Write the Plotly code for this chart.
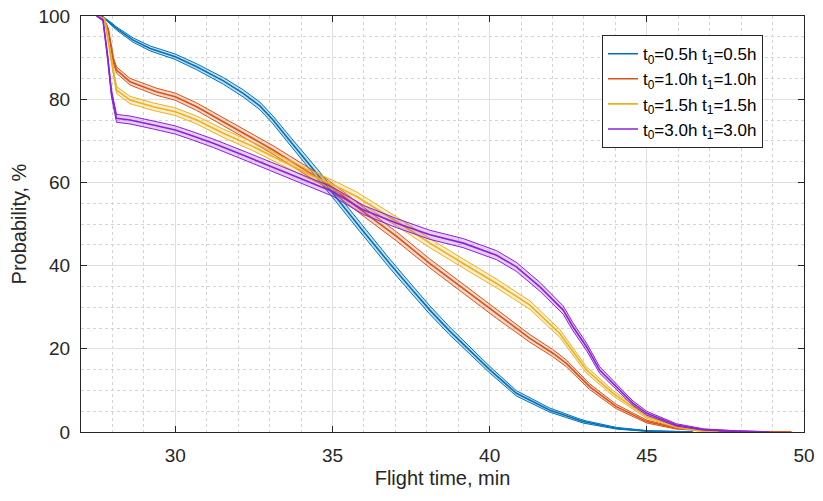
import numpy as np
import plotly.graph_objects as go

labels = ["t<sub>0</sub>=0.5h t<sub>1</sub>=0.5h",
          "t<sub>0</sub>=1.0h t<sub>1</sub>=1.0h",
          "t<sub>0</sub>=1.5h t<sub>1</sub>=1.5h",
          "t<sub>0</sub>=3.0h t<sub>1</sub>=3.0h"]
colors = ["#0072BD", "#D95319", "#EDB120", "#8B22D8"]

blue_x = [27.5, 27.66, 27.9, 28.13, 28.66, 29.2, 30.0, 30.68, 31.53, 32.16, 32.69, 33.11, 33.54, 34.07,
          34.6, 35.0, 35.87, 36.82, 37.5, 38.1, 38.7, 39.3, 40.0, 40.85, 41.9, 42.97, 44.03, 45.0, 45.8, 46.46]
blue_y = [100, 100, 98.5, 97, 94.2, 92.2, 90.2, 87.8, 84.4, 81.4, 78.4, 75, 71, 66.2,
          61.4, 57.5, 49.3, 40.5, 34.5, 29.3, 24.5, 20.2, 15, 9.3, 5.3, 2.5, 0.9, 0.25, 0.05, 0]

orange_x = [27.5, 27.72, 27.87, 28.03, 28.13, 28.56, 29.4, 30.0, 30.68, 31.42, 32.27, 33.11, 33.96, 34.81,
            35.98, 37.04, 38.1, 39.16, 40.22, 41.28, 42.0, 42.44, 43.18, 44.03, 45.0, 45.94, 47.0, 48.0, 49.6]
orange_y = [100, 99.5, 96.6, 89.4, 87, 84.2, 81.8, 80.6, 78.2, 75, 71.4, 67.8, 63.8, 59.8,
            53, 47, 40.5, 34.5, 28.3, 22.5, 19, 16.5, 10.9, 6.1, 2.5, 0.9, 0.3, 0.1, 0]

yellow_x = [27.5, 27.75, 27.97, 28.13, 28.56, 29.3, 30.0, 30.68, 31.53, 32.48, 33.33, 34.18, 35.13, 35.77,
            37.04, 38.1, 39.16, 40.22, 41.28, 42.23, 43.08, 43.93, 45.0, 45.94, 46.6, 47.3]
yellow_y = [100, 99.3, 89.4, 82.2, 79.8, 78.2, 77, 75, 71.8, 68.6, 65.4, 62.2, 59.0, 56.6,
            50.6, 45.4, 40.5, 35.7, 30.5, 23.7, 14.9, 9.3, 3.7, 1.3, 0.4, 0]

purple_x = [27.5, 27.7, 27.85, 27.97, 28.13, 28.56, 29.3, 30.0, 30.47, 31.21, 32.27, 33.33, 34.39, 35.0,
            35.98, 37.04, 38.1, 39.16, 40.22, 40.85, 41.6, 42.34, 42.65, 43.08, 43.5, 43.93, 44.56, 45.0,
            45.94, 46.8, 47.8, 48.9]
purple_y = [100, 99, 90, 81.4, 75.4, 75, 73.8, 72.6, 71.4, 69.4, 66.2, 63, 59.8, 57.8,
            53.4, 50.2, 47.4, 45.4, 42.5, 39.7, 34.9, 29.3, 25.3, 20.5, 14.9, 11.7, 6.9, 4.5,
            1.7, 0.6, 0.2, 0]

series = [(blue_x, blue_y), (orange_x, orange_y), (yellow_x, yellow_y), (purple_x, purple_y)]

FONT = "Liberation Sans, Arial, sans-serif"

def rgba(h, a):
    h = h.lstrip("#")
    return "rgba(%d,%d,%d,%.2f)" % (int(h[0:2], 16), int(h[2:4], 16), int(h[4:6], 16), a)

fig = go.Figure()
for (xs, ys), c, lab in zip(series, colors, labels):
    x = np.array(xs, float)
    y = np.array(ys, float)
    p = y / 100.0
    hw = 2.2 * np.sqrt(np.clip(p * (1 - p), 0, None))
    lo = np.clip(y - hw, 0, 100)
    hi = np.clip(y + hw, 0, 100)
    fig.add_trace(go.Scatter(x=x, y=lo, mode="lines", line=dict(color=c, width=1),
                             showlegend=False, hoverinfo="skip"))
    fig.add_trace(go.Scatter(x=x, y=hi, mode="lines", line=dict(color=c, width=1),
                             fill="tonexty", fillcolor=rgba(c, 0.22),
                             showlegend=False, hoverinfo="skip"))
    fig.add_trace(go.Scatter(x=x, y=y, mode="lines", line=dict(color=c, width=1.6), name=lab))

axis_common = dict(
    showline=True, linecolor="#262626", linewidth=1, mirror="ticks",
    ticks="inside", ticklen=6, tickcolor="#262626", tickwidth=1,
    showgrid=True, gridcolor="#dfdfdf", gridwidth=1,
    zeroline=False, automargin=False, ticklabeloverflow="allow",
    tickfont=dict(family=FONT, size=19, color="#262626"),
)

fig.update_xaxes(range=[27, 50], tickvals=[30, 35, 40, 45, 50],
                 minor=dict(dtick=1, showgrid=True, gridcolor="#d4d4d4", griddash="dot", gridwidth=1, ticks=""),
                 ticklabelstandoff=6,
                 title=dict(text="Flight time, min", standoff=6,
                            font=dict(family=FONT, size=20, color="#262626")),
                 **axis_common)
fig.update_yaxes(range=[0, 100], tickvals=[0, 20, 40, 60, 80, 100],
                 minor=dict(dtick=5, showgrid=True, gridcolor="#d4d4d4", griddash="dot", gridwidth=1, ticks=""),
                 ticklabelstandoff=6,
                 title=dict(text="Probability, %", standoff=6,
                            font=dict(family=FONT, size=20, color="#262626")),
                 **axis_common)

fig.update_layout(
    width=823, height=501,
    margin=dict(l=81, r=19, t=16, b=69),
    plot_bgcolor="white", paper_bgcolor="white",
    legend=dict(x=0.7206, y=0.954, xanchor="left", yanchor="top",
                bgcolor="white", bordercolor="#262626", borderwidth=1,
                font=dict(family=FONT, size=17, color="#000000"),
                traceorder="normal", tracegroupgap=0, itemwidth=30),
    showlegend=True,
)

fig.write_html("out.html", config={"displayModeBar": False},
               post_script="document.body.style.margin='0px';")
